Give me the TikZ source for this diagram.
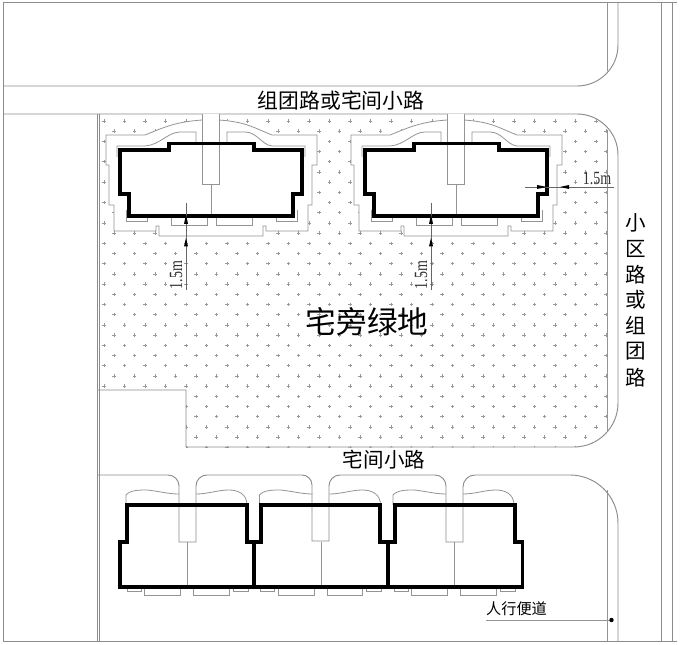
\documentclass[tikz,border=0pt]{standalone}
\usepackage{fontspec}
\usetikzlibrary{arrows.meta}
\newfontfamily\cjk{Noto Sans CJK SC}
\setmainfont{Liberation Serif}
\tikzset{
  thinline/.style={draw=black!42,line width=0.6},
  roadline/.style={draw=black!45,line width=0.7},
  wall/.style={draw=black,line width=2.8,line join=miter},
  plusmark/.style={draw=black!40,line width=0.5},
  dimline/.style={draw=black!60,line width=0.55},
  dimhead/.style={fill=black,draw=none},
  cnlabel/.style={font=\cjk,text=black,inner sep=0,anchor=center},
  dimtext/.style={inner sep=0,text=black!80,anchor=center}
}
\begin{document}
\begin{tikzpicture}[x=0.75pt,y=-0.75pt]
\useasboundingbox (0,0) rectangle (683,645);
\fill[white] (0,0) rectangle (683,645);
% planting marks, clipped to the green area
\begin{scope}
\clip (99,114) -- (577,114) arc[start angle=-90,end angle=0,radius=41] -- (618,403) arc[start angle=0,end angle=90,radius=44] -- (186,448) -- (186,390) -- (99,390) -- cycle;
\foreach \k in {0,...,32}{
  \pgfmathsetmacro{\yy}{121+10.2*\k}
  \pgfmathsetmacro{\xo}{isodd(\k)?114:104}
  \foreach \j in {0,...,24}{
    \pgfmathsetmacro{\xx}{\xo+20.5*\j}
    \ifdim\xx pt<610pt
      \draw[plusmark] (\xx-1.7,\yy) -- (\xx+1.7,\yy) (\xx,\yy-1.7) -- (\xx,\yy+1.7);
    \fi
  }
}
\end{scope}
% frame and roads
\draw[roadline] (3,2) -- (677,2);
\draw[roadline] (3,641) -- (677,641);
\draw[roadline] (3,2) -- (3,641);
\draw[roadline] (3,86) -- (577,86) arc[start angle=90,end angle=0,radius=41] -- (618,2);
\draw[thinline] (607,2) -- (607,71);
\draw[roadline] (3,114) -- (577,114) arc[start angle=-90,end angle=0,radius=41] -- (618,403) arc[start angle=0,end angle=90,radius=44] -- (186,447) -- (186,390) -- (98,390);
\draw[thinline] (607,130) -- (607,432);
\draw[roadline] (97,114) -- (97,641);
\draw[roadline] (99.5,114) -- (99.5,641);
\draw[roadline] (661,2) -- (661,641);
\draw[roadline] (672,2) -- (672,641);
\draw[thinline] (607,490) -- (607,641);
\draw[roadline] (618,641) -- (618,523) arc[start angle=0,end angle=-90,radius=48] -- (475,475) arc[start angle=-90,end angle=-180,radius=12] -- (463,542) -- (446,542) -- (446,486) arc[start angle=0,end angle=-90,radius=11] -- (340,475) arc[start angle=-90,end angle=-180,radius=11] -- (329,541) -- (312,541) -- (312,485) arc[start angle=0,end angle=-90,radius=10] -- (207,475) arc[start angle=-90,end angle=-180,radius=11] -- (196,542) -- (179,542) -- (179,486) arc[start angle=0,end angle=-90,radius=11] -- (98,475);
% upper buildings
\foreach \dx in {0,245}{
\begin{scope}[shift={(\dx,0)}]
  \fill[white] (202,120) .. controls (175,122) and (165,127) .. (145,135) -- (106,135) -- (106,165) -- (109,165) -- (109,205) -- (114,205) -- (114,231) -- (156,231) -- (156,226) -- (159,226) -- (159,236) -- (263,236) -- (263,226) -- (266,226) -- (266,231) -- (308,231) -- (308,205) -- (312,205) -- (312,165) -- (317,165) -- (317,135) -- (272,135) .. controls (252,127) and (246,122) .. (219,120) -- (219,114) -- (202,114) -- cycle;
  \draw[thinline] (202,120) .. controls (175,122) and (165,127) .. (145,135) -- (106,135) -- (106,165) -- (109,165) -- (109,205) -- (114,205) -- (114,231) -- (156,231) -- (156,226) -- (159,226) -- (159,236) -- (263,236) -- (263,226) -- (266,226) -- (266,231) -- (308,231) -- (308,205) -- (312,205) -- (312,165) -- (317,165) -- (317,135) -- (272,135) .. controls (252,127) and (246,122) .. (219,120);
  \draw[thinline] (196,143) -- (196,132) -- (180,132) .. controls (168,132) and (160,145) .. (145,146) -- (117,146) -- (117,157);
  \draw[thinline] (227,143) -- (227,132) -- (245,132) .. controls (257,132) and (262,145) .. (272,146) -- (305,146) -- (305,157);
  \draw[thinline] (202,114) -- (202,184) -- (219,184) -- (219,114);
  \draw[thinline] (211,184) -- (211,216);
  \draw[thinline] (126,210) -- (126,221) -- (147,221) -- (147,216);
  \draw[thinline] (171,216) -- (171,225) -- (207,225) -- (207,216);
  \draw[thinline] (216,216) -- (216,225) -- (252,225) -- (252,216);
  \draw[thinline] (276,216) -- (276,221) -- (297,221) -- (297,210);
  \draw[wall] (120,150) -- (169,150) -- (169,143.5) -- (254,143.5) -- (254,150) -- (302,150) -- (302,194) -- (293,194) -- (293,216) -- (129,216) -- (129,194) -- (120,194) -- cycle;
  % vertical dimension
  \draw[dimline] (186,203) -- (186,290);
  \fill[dimhead] (186,214) -- (188,224) -- (184,224) -- cycle;
  \fill[dimhead] (186,238) -- (188,246.5) -- (184,246.5) -- cycle;
  \node[dimtext,rotate=90] (dimv\dx) at (176,275) {\scalebox{0.75}[1]{\fontsize{14}{14}\selectfont 1.5m}};
\end{scope}
}
% horizontal dimension
\draw[dimline] (525,187) -- (614,187);
\fill[dimhead] (547,187) -- (537,185) -- (537,189) -- cycle;
\fill[dimhead] (560,187) -- (569,185) -- (569,189) -- cycle;
\node[dimtext] (dimh) at (597,178) {\scalebox{0.75}[1]{\fontsize{14}{14}\selectfont 1.5m}};
% lower buildings
\foreach \dx in {0,133.5,267}{
\begin{scope}[shift={(\dx,0)}]
  \draw[thinline] (126,505) -- (126,495) .. controls (130,490) and (140,490) .. (147,490) .. controls (158,491) and (168,494) .. (179,494);
  \draw[thinline] (196,494) .. controls (208,494) and (218,490) .. (229,490) .. controls (238,490) and (247,494) .. (247,505);
  \draw[thinline] (127,587) -- (127,591) -- (141,591) -- (141,587);
  \draw[thinline] (144.5,587) -- (144.5,595.5) -- (180.5,595.5) -- (180.5,587);
  \draw[thinline] (193.5,587) -- (193.5,595.5) -- (229,595.5) -- (229,587);
  \draw[thinline] (233,587) -- (233,591) -- (248,591) -- (248,587);
  \draw[thinline] (187.5,542) -- (187.5,587);
\end{scope}
}
\draw[wall] (120,587) -- (120,542) -- (127,542) -- (127,505) -- (247,505) -- (247,542) -- (261,542) -- (261,505) -- (380,505) -- (380,542) -- (395,542) -- (395,505) -- (515,505) -- (515,542) -- (522.5,542) -- (522.5,587) -- cycle;
\draw[wall,line width=2.4] (254,542) -- (254,587);
\draw[wall,line width=2.4] (388,542) -- (388,587);
% labels
\node[cnlabel,font=\cjk\fontsize{15.6}{15.6}\selectfont] (roadtop) at (341,101) {组团路或宅间小路};
\node[cnlabel,font=\cjk\fontsize{23}{23}\selectfont] (green) at (367,322) {宅旁绿地};
\node[cnlabel,font=\cjk\fontsize{15.4}{15.4}\selectfont] (roadmid) at (384,460) {宅间小路};
\node[cnlabel,font=\cjk\fontsize{15.4}{15.4}\selectfont] (c1) at (636,223) {小};
\node[cnlabel,font=\cjk\fontsize{15.4}{15.4}\selectfont] (c2) at (636,249) {区};
\node[cnlabel,font=\cjk\fontsize{15.4}{15.4}\selectfont] (c3) at (636,275) {路};
\node[cnlabel,font=\cjk\fontsize{15.4}{15.4}\selectfont] (c4) at (636,300) {或};
\node[cnlabel,font=\cjk\fontsize{15.4}{15.4}\selectfont] (c5) at (636,325) {组};
\node[cnlabel,font=\cjk\fontsize{15.4}{15.4}\selectfont] (c6) at (636,351) {团};
\node[cnlabel,font=\cjk\fontsize{15.4}{15.4}\selectfont] (c7) at (636,378) {路};
\node[cnlabel,font=\cjk\fontsize{11.4}{11.4}\selectfont] (walk) at (516.5,609) {人行便道};
\coordinate (leadstart) at (486,620);
\coordinate (leaddot) at (611.5,620);
\draw[thinline] (leadstart) -- (leaddot);
\fill[black] (leaddot) circle[radius=2.2];
\end{tikzpicture}
\end{document}
